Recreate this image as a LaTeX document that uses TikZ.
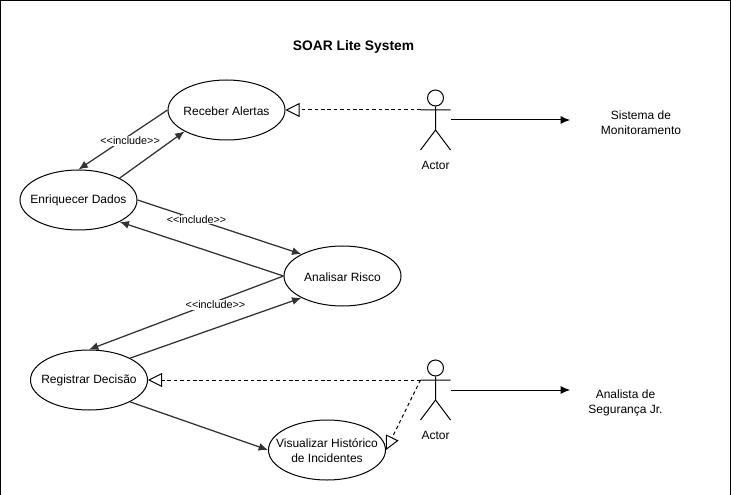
\documentclass[tikz,border=0pt]{standalone}
\usepackage{fontspec}
\setmainfont{Liberation Sans}
\usetikzlibrary{arrows.meta,shapes.geometric}
\tikzset{
  x=0.75pt,y=-0.75pt,
  usecase/.style={draw=black,fill=white,ellipse,minimum width=87.75pt,minimum height=45pt,inner sep=0pt,line width=0.75pt},
  uctext/.style={align=center,inner sep=0pt,yshift=-0.6pt,font=\fontsize{9}{11}\selectfont},
  link/.style={draw=black!80,line width=0.95pt,-{Latex[length=7pt,width=6pt]}},
  assoc/.style={draw=black,line width=0.75pt,-{Latex[length=7pt,width=6pt]}},
  realize/.style={draw=black,line width=0.75pt,dash pattern=on 2.6pt off 2.2pt,-{Triangle[open,length=10.5pt,width=10.5pt,fill=white]}},
  inc/.style={fill=white,inner sep=0.5pt,font=\fontsize{8.1}{9}\selectfont},
  lbl/.style={align=center,inner sep=0pt,yshift=-0.4pt,font=\fontsize{9}{11.2}\selectfont},
  limb/.style={draw=black,line width=0.75pt},
  head/.style={draw=black,circle,minimum size=12pt,inner sep=0pt,line width=0.75pt},
}
\begin{document}
\begin{tikzpicture}
\useasboundingbox (0,0) rectangle (731,495);
\draw[black,line width=0.9pt] (0.5,495) -- (0.5,0.5) -- (730.5,0.5) -- (730.5,495);
\node[font=\bfseries\fontsize{10.35}{12}\selectfont,inner sep=0pt] (title) at (353.5,47) {SOAR Lite System};
\node[usecase,label={[uctext]center:Receber Alertas}] (rec) at (226.5,110) {};
\node[usecase,label={[uctext]center:Enriquecer Dados}] (enr) at (78.5,200) {};
\node[usecase,label={[uctext]center:Analisar Risco}] (ana) at (342.5,276) {};
\node[usecase,label={[uctext]center:Registrar Decisão}] (reg) at (89,380) {};
\node[usecase,label={[uctext]center:Visualizar Histórico\\de Incidentes}] (vis) at (327,450) {};
% actors
\node[head] (h1) at (435.5,98) {};
\coordinate (a1l) at (420.5,110);
\coordinate (a1r) at (450.5,110);
\coordinate (a1c) at (435.5,130);
\coordinate (a1ll) at (420.5,150);
\coordinate (a1rl) at (450.5,150);
\coordinate (a1o) at (450.5,120);
\coordinate (s1) at (570,120);
\draw[limb] (h1) -- (a1c) (a1l) -- (a1r) (a1ll) -- (a1c) -- (a1rl);
\node[lbl] (al1) at (435.5,165) {Actor};
\node[head] (h2) at (435.5,368) {};
\coordinate (a2l) at (420.5,380);
\coordinate (a2r) at (450.5,380);
\coordinate (a2c) at (435.5,400);
\coordinate (a2ll) at (420.5,420);
\coordinate (a2rl) at (450.5,420);
\coordinate (a2o) at (450.5,390);
\coordinate (s2) at (570,390);
\draw[limb] (h2) -- (a2c) (a2l) -- (a2r) (a2ll) -- (a2c) -- (a2rl);
\node[lbl] (al2) at (435.5,435) {Actor};
\node[lbl] (sm) at (641,122) {Sistema de\\Monitoramento};
\node[lbl] (as) at (625.5,402) {Analista de\\Segurança Jr.};
% connectors
\draw[link] (rec.west) -- node[inc,pos=0.42,yshift=-4.5pt] {<{}<include>{}>} (enr.north);
\draw[link] (enr.28) -- (rec.207.4);
\draw[link] (enr.east) -- node[inc,pos=0.36] {<{}<include>{}>} (ana.152);
\draw[link] (ana.west) -- (enr.-28);
\draw[link] (ana.west) -- node[inc,pos=0.35,yshift=-2.5pt] {<{}<include>{}>} (reg.north);
\draw[link] (reg.28) -- (ana.208);
\draw[link] (reg.-28) -- (vis.west);
\draw[realize] (a1l) -- (rec.east);
\draw[realize] (a2l) -- (reg.east);
\draw[realize] (a2l) -- (vis.east);
\draw[assoc] (a1o) -- (s1);
\draw[assoc] (a2o) -- (s2);
\end{tikzpicture}
\end{document}
